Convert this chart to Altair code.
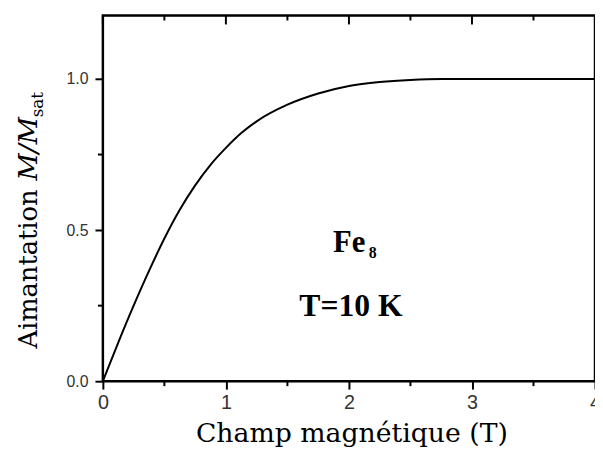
import altair as alt
import pandas as pd

# Data
field_T = [0, 0.125, 0.25, 0.375, 0.5, 0.625, 0.75, 0.875, 1.0, 1.125, 1.25,
           1.5, 1.75, 2.0, 2.25, 2.5, 2.75, 3.0, 3.5, 4.0]
magnet = [0, 0.128, 0.250, 0.365, 0.472, 0.567, 0.648, 0.716, 0.772, 0.821, 0.860,
          0.915, 0.952, 0.977, 0.990, 0.997, 1.0, 1.0, 1.0, 1.0]

x_major = [0, 1, 2, 3, 4]
x_minor = [0.5, 1.5, 2.5, 3.5]
y_major = [0.0, 0.5, 1.0]
y_minor = [0.25, 0.75]

x_title = "Champ magnétique (T)"
y_title_a = "Aimantation"
y_title_b = "M/M"
y_title_c = "sat"
label_1 = "Fe"
label_1_sub = "8"
label_2 = "T=10 K"

W, H = 498, 370

df = pd.DataFrame({"B": field_T, "M": magnet})
xs = alt.Scale(domain=[0, 4], nice=False, zero=False)
ys = alt.Scale(domain=[0, 1.21], nice=False, zero=False)

line = alt.Chart(df).mark_line(color="black", strokeWidth=2, interpolate="monotone").encode(
    x=alt.X("B:Q", scale=xs,
            axis=alt.Axis(values=x_major, title=None, format="d", grid=False, domain=False,
                          tickSize=8, tickWidth=2, tickColor="black",
                          labelFontSize=20, labelFont="Liberation Sans", labelColor="#333",
                          labelPadding=4, labelFlush=False)),
    y=alt.Y("M:Q", scale=ys,
            axis=alt.Axis(values=y_major, title=None, format=".1f", grid=False, domain=False,
                          tickSize=8, tickWidth=2, tickColor="black",
                          labelFontSize=16, labelFont="Liberation Sans", labelColor="#333",
                          labelPadding=7)),
)

frame = alt.Chart(pd.DataFrame({"B": [0]})).mark_rect(
    fill=None, stroke="black", strokeWidth=2.5
).encode(x=alt.value(0), x2=alt.value(W), y=alt.value(0), y2=alt.value(H))

xmin_df = pd.DataFrame({"B": x_minor})
xmaj_df = pd.DataFrame({"B": x_major})
ymin_df = pd.DataFrame({"M": y_minor})

bottom_minor = alt.Chart(xmin_df).mark_rule(color="black", strokeWidth=2).encode(
    x=alt.X("B:Q", scale=xs), y=alt.value(H), y2=alt.value(H + 5))
top_minor = alt.Chart(xmin_df).mark_rule(color="black", strokeWidth=2).encode(
    x=alt.X("B:Q", scale=xs), y=alt.value(0), y2=alt.value(5))
top_major = alt.Chart(xmaj_df).mark_rule(color="black", strokeWidth=2).encode(
    x=alt.X("B:Q", scale=xs), y=alt.value(0), y2=alt.value(9))
left_minor = alt.Chart(ymin_df).mark_rule(color="black", strokeWidth=2).encode(
    y=alt.Y("M:Q", scale=ys), x=alt.value(-5), x2=alt.value(0))

def txt(s, x, y, size, font="DejaVu Serif", weight="normal", style="normal",
        align="left", angle=0):
    return alt.Chart(pd.DataFrame({"t": [s]})).mark_text(
        font=font, fontSize=size, fontWeight=weight, fontStyle=style,
        align=align, baseline="alphabetic", angle=angle, color="black"
    ).encode(x=alt.value(x), y=alt.value(y), text="t:N")

texts = [
    txt(x_title, 252, 432, 27, align="center"),
    txt(y_title_a, -67, 337, 26, angle=270),
    txt(y_title_b, -67, 167, 27, style="italic", angle=270),
    txt(y_title_c, -61, 103, 17, angle=270),
    txt(label_1, 233, 239, 31, font="Liberation Serif", weight="bold"),
    txt(label_1_sub, 269, 245, 16, font="Liberation Serif", weight="bold"),
    txt(label_2, 251, 304, 32, font="Liberation Serif", weight="bold", align="center"),
]

chart = alt.layer(line, frame, bottom_minor, top_minor, top_major, left_minor, *texts).properties(
    width=W, height=H,
    autosize=alt.AutoSizeParams(type="none"),
    padding={"left": 96, "top": 5, "right": 0, "bottom": 68},
).configure_view(stroke=None).configure(background="white")

chart.save("out.html", embed_options={"renderer": "svg", "actions": False})
